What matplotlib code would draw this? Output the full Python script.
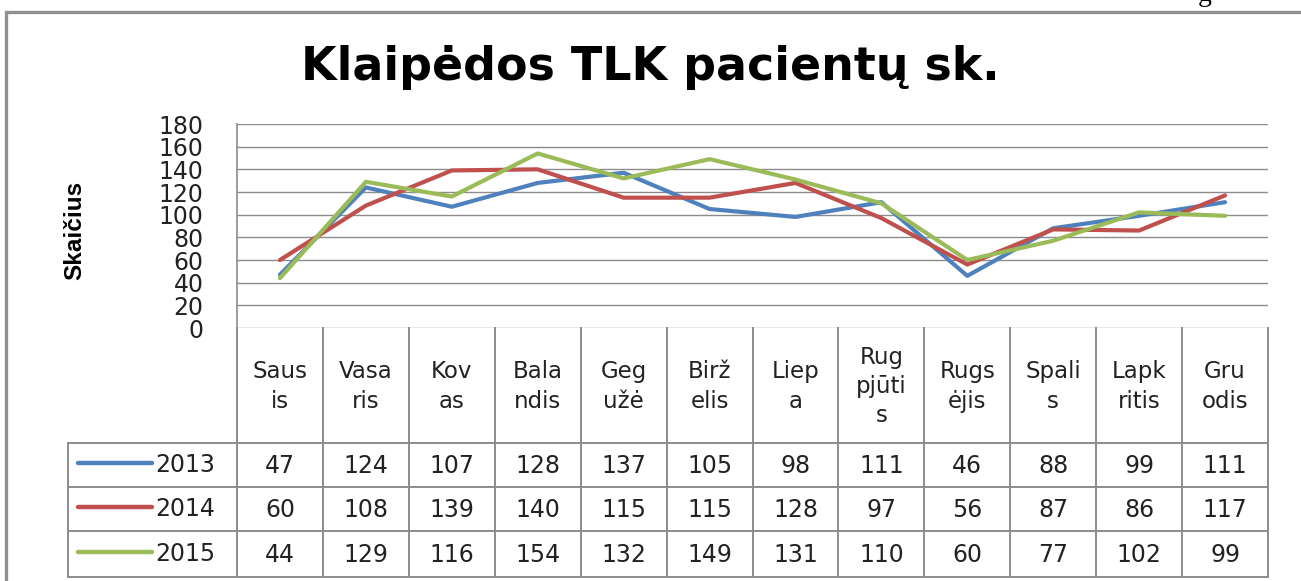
import numpy as np
import matplotlib.pyplot as plt

# Data
MONTH_LABELS = ['Saus\nis', 'Vasa\nris', 'Kov\nas', 'Bala\nndis', 'Geg\nužė', 'Birž\nelis',
                'Liep\na', 'Rug\npjūti\ns', 'Rugs\nėjis', 'Spali\ns', 'Lapk\nritis', 'Gru\nodis']
YEARS = ['2013', '2014', '2015']
V2013 = [47, 124, 107, 128, 137, 105, 98, 111, 46, 88, 99, 111]
V2014 = [60, 108, 139, 140, 115, 115, 128, 97, 56, 87, 86, 117]
V2015 = [44, 129, 116, 154, 132, 149, 131, 110, 60, 77, 102, 99]
SERIES = [V2013, V2014, V2015]
COLORS = ['#4F81BD', '#C0504D', '#9BBB59']

# Layout in pixels
W, H = 1301, 581
PX_L, PX_R = 237, 1268
PY_T, PY_B = 124, 328
TAB_L = 68
ROW_Y = [443, 487, 531, 577]
GRAY = '#8c8c8c'
FONT = 'DejaVu Sans'

fig = plt.figure(figsize=(W / 100, H / 100), dpi=100)

# overlay axes in pixel coords for the frame and the data table
tab = fig.add_axes([0, 0, 1, 1])
tab.set_xlim(0, W)
tab.set_ylim(H, 0)
tab.axis('off')

# outer chart border (right/bottom lie outside the picture)
tab.plot([6, 6, W + 10], [H + 10, 12, 12], color='#909090', lw=2.4, solid_joinstyle='miter')

# line chart
ax = fig.add_axes([PX_L / W, 1 - PY_B / H, (PX_R - PX_L) / W, (PY_B - PY_T) / H])
xx = np.arange(len(V2013)) + 0.5
for vals, c in zip(SERIES, COLORS):
    ax.plot(xx, vals, color=c, lw=3, solid_capstyle='round', zorder=3)
ax.set_xlim(0, 12)
ax.set_ylim(0, 180)
ax.set_yticks(range(0, 181, 20))
ax.set_xticks([])
ax.grid(axis='y', color=GRAY, lw=1)
for s in ['top', 'right', 'bottom']:
    ax.spines[s].set_visible(False)
ax.spines['left'].set_color(GRAY)
ax.spines['left'].set_linewidth(1.2)
ax.tick_params(axis='y', length=0, pad=24, labelsize=17, labelcolor='#222222')
ax.patch.set_alpha(0)

# title and axis label
fig.text(0.5, 1 - 68 / H, 'Klaipėdos TLK pacientų sk.', ha='center', va='center',
         fontsize=33, fontweight='bold', family=FONT)
fig.text(75 / W, 1 - 230 / H, 'Skaičius', rotation=90, ha='center', va='center',
         fontsize=17.5, fontweight='bold', family='Liberation Sans')
fig.text(1205 / W, 1 - 1 / H, 'g', ha='center', va='baseline', fontsize=20,
         family='Liberation Serif')

# data table
col_w = (PX_R - PX_L) / 12
col_x = [PX_L + k * col_w for k in range(13)]
for cx in col_x:
    tab.plot([cx, cx], [PY_B, ROW_Y[-1]], color=GRAY, lw=1.4)
tab.plot([TAB_L, TAB_L], [ROW_Y[0], ROW_Y[-1]], color=GRAY, lw=1.4)
for ry in ROW_Y:
    tab.plot([TAB_L, PX_R], [ry, ry], color=GRAY, lw=1.4)

for i, lab in enumerate(MONTH_LABELS):
    tab.text(col_x[i] + col_w / 2, (PY_B + ROW_Y[0]) / 2 + 1, lab, ha='center', va='center',
             fontsize=16.5, family=FONT, linespacing=1.35, color='#222222')

for r, (yr, vals, c) in enumerate(zip(YEARS, SERIES, COLORS)):
    cy = (ROW_Y[r] + ROW_Y[r + 1]) / 2
    tab.plot([78, 152], [cy - 2, cy - 2], color=c, lw=3.2, solid_capstyle='round')
    tab.text(155, cy, yr, ha='left', va='center', fontsize=17, family=FONT, color='#222222')
    for i, v in enumerate(vals):
        tab.text(col_x[i] + col_w / 2, cy + 1, str(v), ha='center', va='center',
                 fontsize=17, family=FONT, color='#222222')

fig.savefig('out.png', dpi=100)
